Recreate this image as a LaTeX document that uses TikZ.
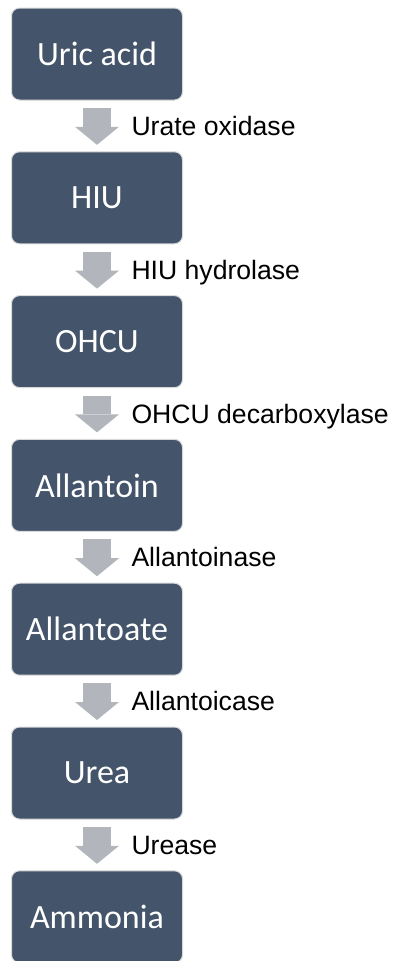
\documentclass[tikz,border=0pt]{standalone}
\usepackage{fontspec}
\setmainfont{Carlito}
\newfontfamily\labelfont{Liberation Sans}
\usetikzlibrary{positioning, arrows.meta}

\definecolor{slate}{HTML}{44546A}
\definecolor{arrowgray}{HTML}{B2B5BC}

\tikzset{
  compound/.style={draw=black!15, line width=1pt, fill=slate, rounded corners=8pt,
    minimum width=171pt, minimum height=92pt, outer sep=0pt,
    text=white, font=\fontsize{34}{37}\selectfont},
  flow/.style={arrowgray, line width=28pt, shorten <=8pt, shorten >=7pt,
    -{Triangle[width=44pt, length=18pt, line width=0pt]}},
  enzyme/.style={anchor=west, xshift=34.5pt, inner sep=0pt, outer sep=0pt, text=black,
    font=\labelfont\fontsize{26.6}{30}\selectfont, text height=19pt, text depth=0pt}
}

\begin{document}
\begin{tikzpicture}[x=1pt, y=1pt]
    \useasboundingbox (0,0) rectangle (393,-961);

    % Degradation steps
    \node[compound] (uric) at (97,-54) {Uric acid};
    \node[compound, below=51.8pt of uric] (hiu) {HIU};
    \node[compound, below=51.8pt of hiu] (ohcu) {OHCU};
    \node[compound, below=51.8pt of ohcu] (allantoin) {Allantoin};
    \node[compound, below=51.8pt of allantoin] (allantoate) {Allantoate};
    \node[compound, below=51.8pt of allantoate] (urea) {Urea};
    \node[compound, below=51.8pt of urea] (ammonia) {Ammonia};

    % Enzymes
    \draw[flow] (uric) -- node[enzyme] {Urate oxidase} (hiu);
    \draw[flow] (hiu) -- node[enzyme] {HIU hydrolase} (ohcu);
    \draw[flow] (ohcu) -- node[enzyme] {OHCU decarboxylase} (allantoin);
    \draw[flow] (allantoin) -- node[enzyme] {Allantoinase} (allantoate);
    \draw[flow] (allantoate) -- node[enzyme] {Allantoicase} (urea);
    \draw[flow] (urea) -- node[enzyme] {Urease} (ammonia);
\end{tikzpicture}
\end{document}
